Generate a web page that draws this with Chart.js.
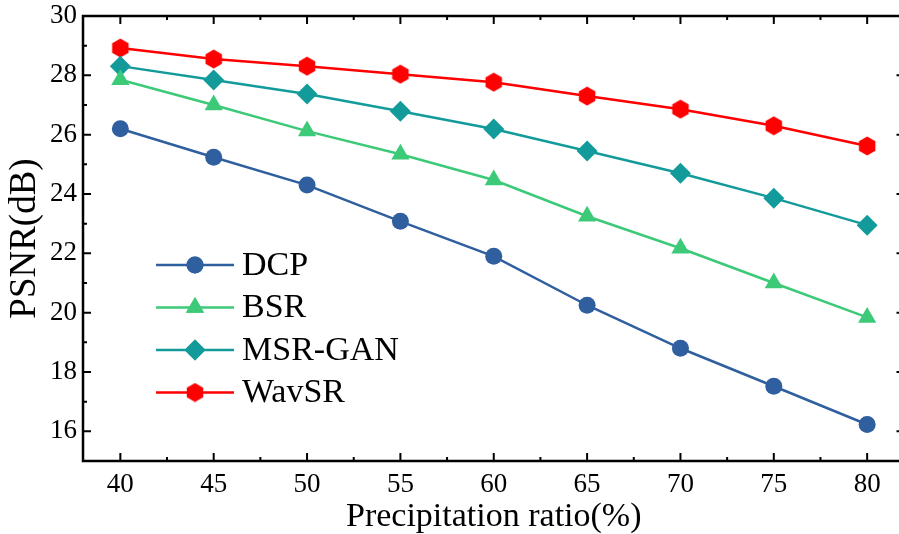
<!DOCTYPE html>
<html>
<head>
<meta charset="utf-8">
<style>
  html, body { margin: 0; padding: 0; background: #fff; overflow: hidden; }
  #wrap { width: 899px; height: 534px; overflow: hidden; }
</style>
<script src="https://cdn.jsdelivr.net/npm/chart.js@4.4.0/dist/chart.umd.min.js"></script>
</head>
<body>
<div id="wrap"><canvas id="chart" width="915" height="534"></canvas></div>
<script>
const ratios = [40, 45, 50, 55, 60, 65, 70, 75, 80];
const dcp = [26.2, 25.24, 24.3, 23.08, 21.9, 20.25, 18.8, 17.52, 16.23];
const bsr = [27.85, 27.0, 26.12, 25.34, 24.47, 23.25, 22.17, 21.0, 19.84];
const msrGan = [28.31, 27.84, 27.37, 26.79, 26.19, 25.45, 24.7, 23.86, 22.95];
const wavSR = [28.92, 28.55, 28.31, 28.04, 27.77, 27.3, 26.86, 26.3, 25.62];
const yTicks = [16, 18, 20, 22, 24, 26, 28, 30];
const xTicks = [40, 45, 50, 55, 60, 65, 70, 75, 80];

const FONT = '"Liberation Serif", "Times New Roman", serif';

function hexagon(color, size) {
  const c = document.createElement('canvas');
  c.width = size; c.height = size;
  const g = c.getContext('2d');
  const r = size / 2;
  g.fillStyle = color;
  g.beginPath();
  for (let i = 0; i < 6; i++) {
    const a = Math.PI / 2 + i * Math.PI / 3;
    const px = r + (r - 0.5) * Math.cos(a);
    const py = r + (r - 0.5) * Math.sin(a);
    i ? g.lineTo(px, py) : g.moveTo(px, py);
  }
  g.closePath();
  g.fill();
  return c;
}

const series = [
  { label: 'DCP', data: dcp, color: '#2f5f9e', style: 'circle', radius: 8.5 },
  { label: 'BSR', data: bsr, color: '#3dca78', style: 'triangle', radius: 10.5 },
  { label: 'MSR-GAN', data: msrGan, color: '#139b9b', style: 'rectRot', radius: 10.5 },
  { label: 'WavSR', data: wavSR, color: '#ff0000', style: hexagon('#ff0000', 20), radius: 10 }
];

const frame = {
  id: 'frame',
  afterDraw(chart) {
    const { ctx, chartArea: a, scales: { x, y } } = chart;
    ctx.save();
    ctx.strokeStyle = '#000';
    ctx.lineWidth = 2.5;
    ctx.strokeRect(a.left, a.top, a.right - a.left, a.bottom - a.top);
    ctx.lineWidth = 2;
    ctx.beginPath();
    for (let v = 37.5; v <= 82; v += 2.5) {
      const px = x.getPixelForValue(v);
      if (px < a.left + 1 || px > a.right - 1) continue;
      const len = v % 5 === 0 ? 8 : 4;
      ctx.moveTo(px, a.bottom); ctx.lineTo(px, a.bottom - len);
      ctx.moveTo(px, a.top); ctx.lineTo(px, a.top + len);
    }
    for (let v = 16; v < 30; v += 1) {
      const py = y.getPixelForValue(v);
      const len = v % 2 === 0 ? 8 : 4;
      ctx.moveTo(a.left, py); ctx.lineTo(a.left + len, py);
      ctx.moveTo(a.right, py); ctx.lineTo(a.right - len, py);
    }
    ctx.stroke();

    // legend inside the plot
    chart.data.datasets.forEach((ds, i) => {
      const cy = 265 + i * 42.5;
      ctx.strokeStyle = ds.borderColor;
      ctx.lineWidth = 2.5;
      ctx.beginPath();
      ctx.moveTo(156, cy); ctx.lineTo(234, cy);
      ctx.stroke();
      ctx.fillStyle = ds.borderColor;
      Chart.helpers.drawPoint(ctx, {
        pointStyle: ds.pointStyle, radius: ds.pointRadius, borderWidth: 0, rotation: 0
      }, 195, cy);
      if (!(ds.pointStyle instanceof HTMLCanvasElement)) ctx.fill();
      ctx.fillStyle = '#000';
      ctx.font = '34px ' + FONT;
      ctx.textBaseline = 'middle';
      ctx.fillText(ds.label, 242, cy + 1);
    });
    ctx.restore();
  }
};

new Chart(document.getElementById('chart'), {
  type: 'line',
  data: {
    datasets: series.map(s => ({
      label: s.label,
      data: ratios.map((r, i) => ({ x: r, y: s.data[i] })),
      borderColor: s.color,
      backgroundColor: s.color,
      pointBackgroundColor: s.color,
      pointBorderColor: s.color,
      pointBorderWidth: 0,
      borderWidth: 2.5,
      pointStyle: s.style,
      pointRadius: s.radius,
      pointHoverRadius: s.radius,
      tension: 0
    }))
  },
  options: {
    responsive: false,
    animation: false,
    layout: { padding: { top: 16, right: 0, left: 0, bottom: 0 } },
    plugins: { legend: { display: false }, tooltip: { enabled: false } },
    scales: {
      x: {
        type: 'linear',
        min: 38,
        max: 82,
        grid: { display: false, drawTicks: false },
        border: { display: false },
        afterBuildTicks: s => { s.ticks = xTicks.map(v => ({ value: v })); },
        afterFit: s => { s.height = 73; s.paddingLeft = 0; s.paddingRight = 0; },
        ticks: { color: '#000', padding: 8, font: { family: FONT, size: 27 } },
        title: { display: true, text: 'Precipitation ratio(%)', color: '#000', padding: { top: 0, bottom: -3 }, font: { family: FONT, size: 34 } }
      },
      y: {
        min: 15,
        max: 30,
        grid: { display: false, drawTicks: false },
        border: { display: false },
        afterBuildTicks: s => { s.ticks = yTicks.map(v => ({ value: v })); },
        afterFit: s => { s.width = 83; s.paddingTop = 0; s.paddingBottom = 0; },
        ticks: { color: '#000', padding: 6, font: { family: FONT, size: 27 } },
        title: { display: true, text: 'PSNR(dB)', color: '#000', padding: { top: 3, bottom: 0 }, font: { family: FONT, size: 37 } }
      }
    }
  },
  plugins: [frame]
});
</script>
</body>
</html>
